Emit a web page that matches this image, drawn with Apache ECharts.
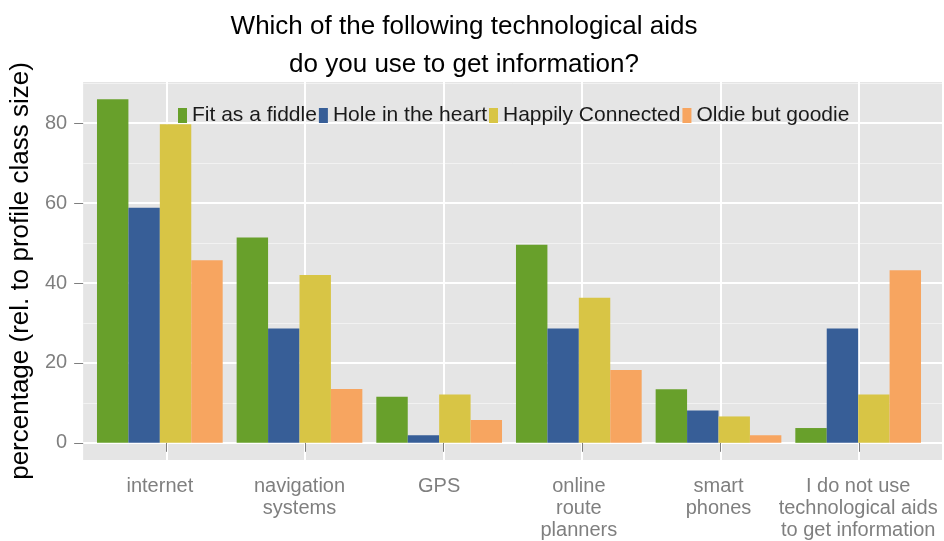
<!DOCTYPE html>
<html>
<head>
<meta charset="utf-8">
<script src="https://cdn.jsdelivr.net/npm/echarts@6/dist/echarts.min.js"></script>
<style>
html,body{margin:0;padding:0;background:#fff;}
#c{width:944px;height:541px;}
</style>
</head>
<body>
<div id="c"></div>
<script>
var categories = ['internet', 'navigation\nsystems', 'GPS', 'online\nroute\nplanners', 'smart\nphones', 'I do not use\ntechnological aids\nto get information'];
var seriesNames = ['Fit as a fiddle', 'Hole in the heart', 'Happily Connected', 'Oldie but goodie'];
var fitAsAFiddle = [86.0, 51.4, 11.5, 49.6, 13.4, 3.7];
var holeInTheHeart = [58.8, 28.6, 1.9, 28.6, 8.1, 28.6];
var happilyConnected = [79.7, 42.0, 12.1, 36.3, 6.6, 12.1];
var oldieButGoodie = [45.7, 13.5, 5.7, 18.2, 1.9, 43.2];
var yTicks = [0, 20, 40, 60, 80];
var yMinorTicks = [10, 30, 50, 70, 90];
var xCenters = [1, 2, 3, 4, 5, 6];
var colors = ['#68A02B', '#375E97', '#D8C545', '#F7A560'];

var FONT = '"Liberation Sans", Arial, Helvetica, sans-serif';
var yMin = -4.3, yMax = 90.3;
var allSeries = [fitAsAFiddle, holeInTheHeart, happilyConnected, oldieButGoodie];

var chart = echarts.init(document.getElementById('c'), null, {renderer: 'canvas'});
chart.setOption({
  animation: false,
  backgroundColor: '#ffffff',
  title: {
    text: 'Which of the following technological aids\ndo you use to get information?',
    left: 459,
    top: 3,
    textAlign: 'center',
    textStyle: {fontFamily: FONT, fontSize: 26, fontWeight: 'normal', color: '#000', lineHeight: 38}
  },
  legend: {
    data: seriesNames,
    left: 173,
    top: 100,
    icon: 'rect',
    itemWidth: 9,
    itemHeight: 15,
    itemGap: 2,
    textStyle: {fontFamily: FONT, fontSize: 21, color: '#1a1a1a'}
  },
  grid: [
    {left: 76, top: 82, width: 866, height: 378, show: true, backgroundColor: '#E5E5E5', borderWidth: 0},
    {left: 90, top: 82, width: 838, height: 378, show: false}
  ],
  xAxis: [
    {
      type: 'value', gridIndex: 0, min: 0.4, max: 6.6,
      axisLine: {show: false},
      axisLabel: {show: false},
      axisTick: {show: true, customValues: xCenters, length: 9, lineStyle: {color: '#7F7F7F', width: 1}},
      splitLine: {show: true, lineStyle: {color: '#FFFFFF', width: 2}}
    },
    {
      type: 'category', gridIndex: 1, data: categories,
      axisLine: {show: false},
      axisTick: {show: false},
      axisLabel: {show: true, interval: 0, margin: 15, color: '#7F7F7F', fontFamily: FONT, fontSize: 20, lineHeight: 22, align: 'center'},
      splitLine: {show: false}
    }
  ],
  yAxis: [
    {
      type: 'value', gridIndex: 0, min: yMin, max: yMax,
      axisLine: {show: false},
      axisTick: {show: false, customValues: yMinorTicks},
      axisLabel: {show: false, customValues: yMinorTicks},
      splitLine: {show: true, lineStyle: {color: '#F2F2F2', width: 1}}
    },
    {
      type: 'value', gridIndex: 0, min: yMin, max: yMax, position: 'left',
      name: 'percentage (rel. to profile class size)',
      nameLocation: 'middle',
      nameGap: 49,
      nameTextStyle: {fontFamily: FONT, fontSize: 26, color: '#000'},
      axisLine: {show: false},
      axisTick: {show: true, customValues: yTicks, length: 9, lineStyle: {color: '#7F7F7F', width: 1}},
      axisLabel: {show: true, customValues: yTicks, margin: 16, color: '#7F7F7F', fontFamily: FONT, fontSize: 20},
      splitLine: {show: true, lineStyle: {color: '#FFFFFF', width: 2}}
    },
    {
      type: 'value', gridIndex: 1, min: yMin, max: yMax, show: false,
      splitLine: {show: false}
    }
  ],
  series: seriesNames.map(function (name, i) {
    return {
      name: name,
      type: 'bar',
      xAxisIndex: 1,
      yAxisIndex: 2,
      data: allSeries[i],
      barGap: '0%',
      barCategoryGap: '10%',
      itemStyle: {color: colors[i]},
      emphasis: {disabled: true}
    };
  })
});
</script>
</body>
</html>
